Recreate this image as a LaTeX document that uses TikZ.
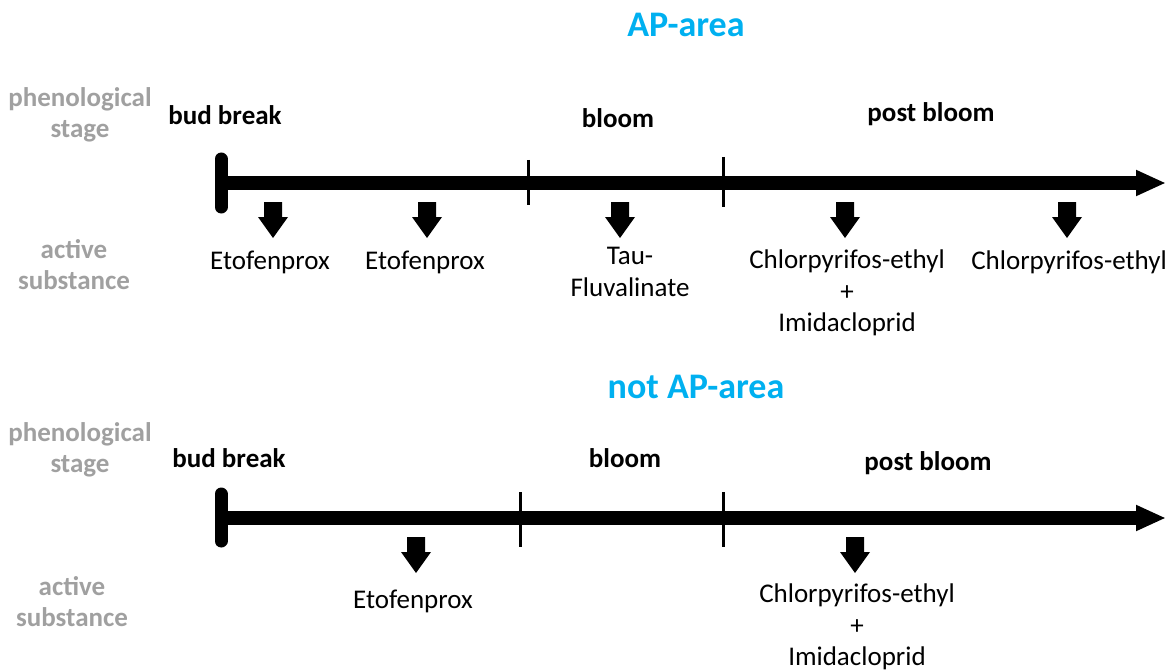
\documentclass[tikz,border=0pt]{standalone}
\usepackage{fontspec}
\setmainfont{Carlito}
\usetikzlibrary{arrows.meta}

\definecolor{apblue}{RGB}{0,176,240}
\definecolor{labelgray}{RGB}{160,160,160}

\tikzset{
  timeline/.style={line width=14pt, -{Triangle[width=24pt,length=30pt]}},
  startbar/.style={line width=13pt, line cap=round},
  stagetick/.style={line width=3pt},
  arealbl/.style={text=apblue, font=\fontsize{36}{40}\selectfont\bfseries},
  sidelbl/.style={text=labelgray, align=center, font=\fontsize{27}{31}\selectfont\bfseries},
  stagelbl/.style={font=\fontsize{27}{31}\selectfont\bfseries},
  substlbl/.style={align=center, font=\fontsize{27}{31.5}\selectfont},
  spray/.pic={\fill (-9,0) -- (9,0) -- (9,15) -- (15,15) -- (0,36) -- (-15,15) -- (-9,15) -- cycle;}
}

\begin{document}
\begin{tikzpicture}[x=1pt, y=-1pt]
  \useasboundingbox (0,0) rectangle (1174,671);

  % AP-area
  \node[arealbl] (ap) at (686,25) {AP-area};
  \node[sidelbl] (phen1) at (80,115) {phenological\\stage};
  \node[sidelbl] (act1) at (74,265) {active\\substance};
  \node[stagelbl] (bud1) at (225,115) {bud break};
  \node[stagelbl] (bloom1) at (618,118) {bloom};
  \node[stagelbl] (post1) at (931,114) {post bloom};

  \coordinate (s1) at (221,183);
  \coordinate (e1) at (1166,183);
  \draw[startbar] (221,159) -- (221,207);
  \draw[timeline] (s1) -- (e1);
  \draw[stagetick] (528,160) -- (528,205);
  \draw[stagetick] (723,157) -- (723,207);
  \foreach \x in {273,427,620,845,1067}
    \pic at (\x,202) {spray};

  \node[substlbl] (etof1) at (270,262) {Etofenprox};
  \node[substlbl] (etof2) at (425,262) {Etofenprox};
  \node[substlbl] (tau1) at (630,272) {Tau-\\Fluvalinate};
  \node[substlbl] (chlim1) at (847,293) {Chlorpyrifos-ethyl\\+\\Imidacloprid};
  \node[substlbl] (chl1) at (1069,262) {Chlorpyrifos-ethyl};

  % not AP-area
  \node[arealbl] (notap) at (696,387) {not AP-area};
  \node[sidelbl] (phen2) at (80,450) {phenological\\stage};
  \node[sidelbl] (act2) at (72,602) {active\\substance};
  \node[stagelbl] (bud2) at (229,458) {bud break};
  \node[stagelbl] (bloom2) at (625,458) {bloom};
  \node[stagelbl] (post2) at (928,463) {post bloom};

  \coordinate (s2) at (221,518);
  \coordinate (e2) at (1166,518);
  \draw[startbar] (221,494) -- (221,541);
  \draw[timeline] (s2) -- (e2);
  \draw[stagetick] (520,492) -- (520,547);
  \draw[stagetick] (723,492) -- (723,547);
  \foreach \x in {416,855}
    \pic at (\x,537) {spray};

  \node[substlbl] (etof3) at (413,601) {Etofenprox};
  \node[substlbl] (chlim2) at (857,627) {Chlorpyrifos-ethyl\\+\\Imidacloprid};
\end{tikzpicture}
\end{document}
